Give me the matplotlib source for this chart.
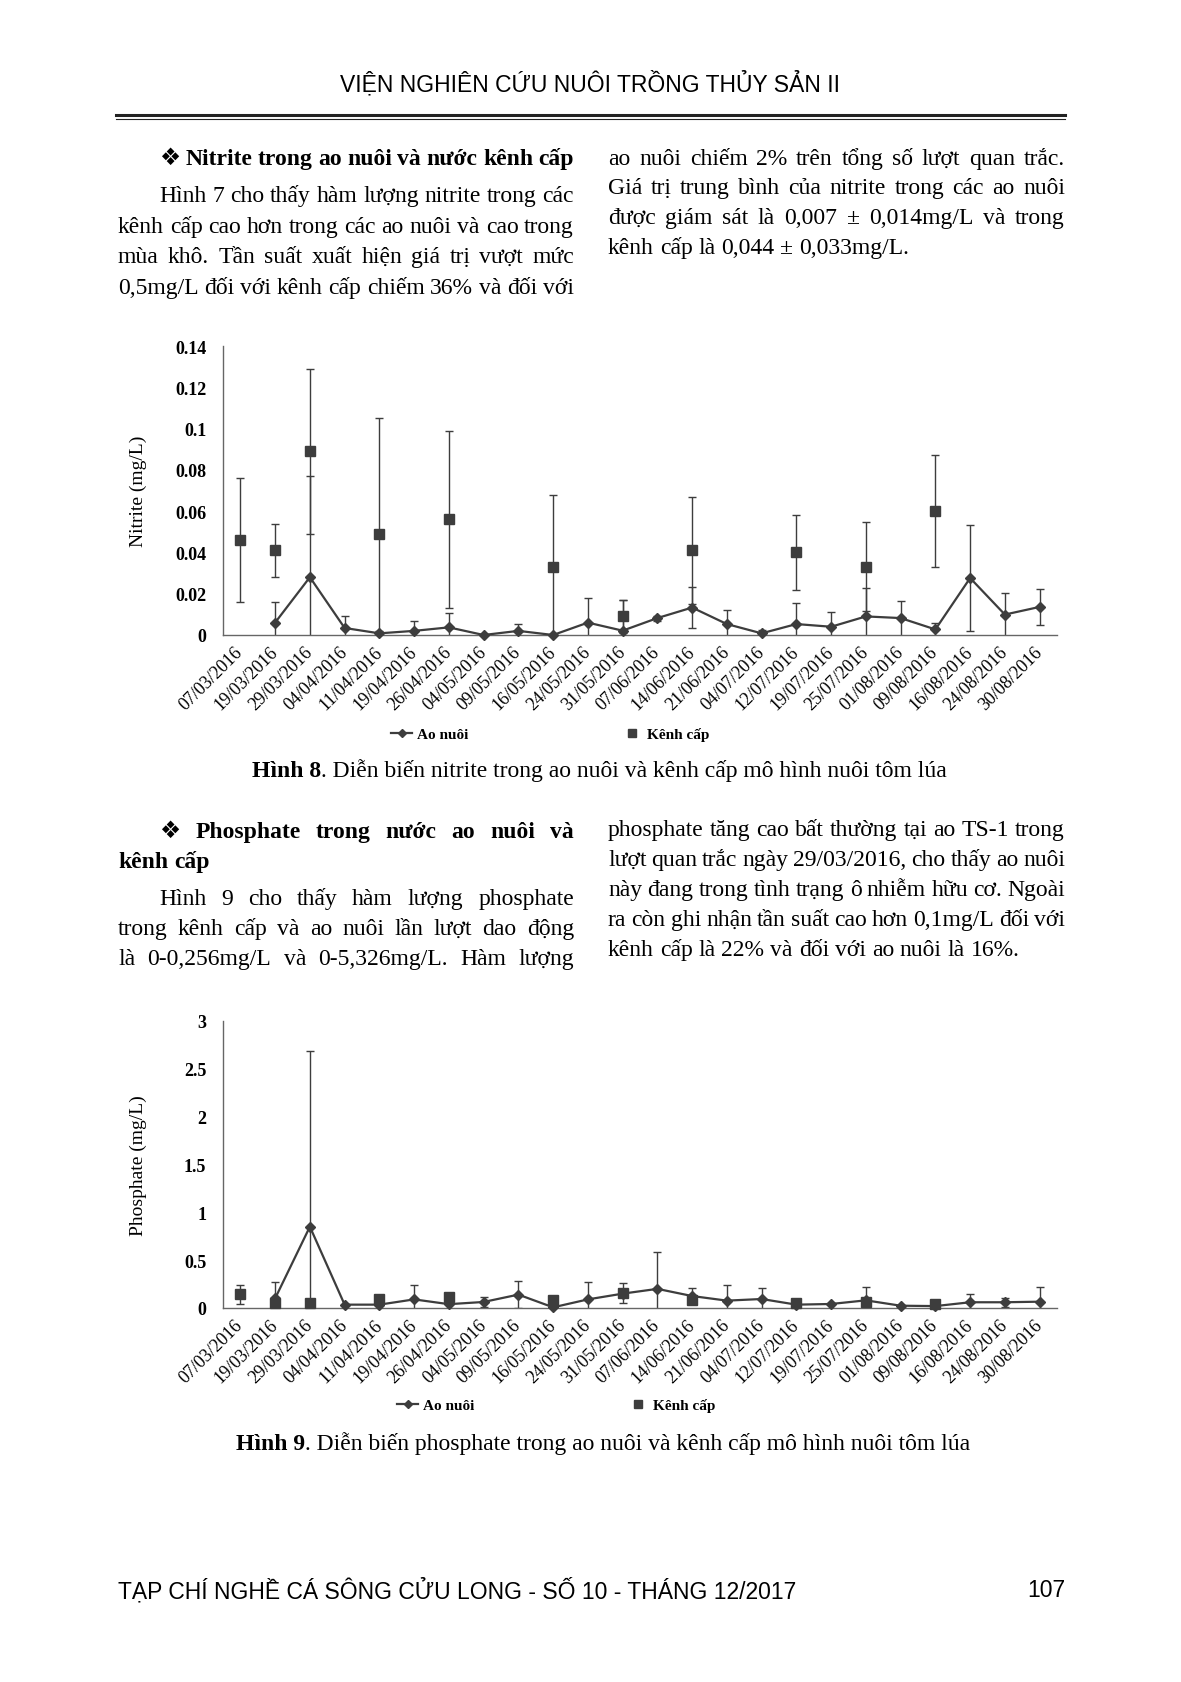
import matplotlib
matplotlib.use('Agg')
import matplotlib.pyplot as plt
from matplotlib.lines import Line2D
import numpy as np

W, H = 1181, 1683
nan = np.nan

# ---- du lieu (doc tu hinh) ----
dates = ['07/03/2016', '19/03/2016', '29/03/2016', '04/04/2016', '11/04/2016', '19/04/2016',
         '26/04/2016', '04/05/2016', '09/05/2016', '16/05/2016', '24/05/2016', '31/05/2016',
         '07/06/2016', '14/06/2016', '21/06/2016', '04/07/2016', '12/07/2016', '19/07/2016',
         '25/07/2016', '01/08/2016', '09/08/2016', '16/08/2016', '24/08/2016', '30/08/2016']

nitrite_ao = [nan, 0.006, 0.028, 0.0034, 0.0008, 0.002, 0.0037, 0.0, 0.002, 0.0, 0.006, 0.0021,
              0.0082, 0.0133, 0.0053, 0.0008, 0.0053, 0.004, 0.009, 0.0082, 0.0027, 0.0276, 0.0099, 0.0136]
nitrite_ao_sd = [nan, 0.010, 0.049, 0.0056, 0.001, 0.0046, 0.007, 0.0, 0.0033, 0.0, 0.0118, 0.015,
                 0.0012, 0.0101, 0.007, 0.0016, 0.0102, 0.0073, 0.0138, 0.0085, 0.0033, 0.0255, 0.0106, 0.0088]
nitrite_kenh = [0.046, 0.041, 0.089, nan, 0.049, nan, 0.056, nan, nan, 0.033, nan, 0.009,
                nan, 0.041, nan, nan, 0.040, nan, 0.033, nan, 0.060, nan, nan, nan]
nitrite_kenh_sd = [0.030, 0.013, 0.040, nan, 0.056, nan, 0.043, nan, nan, 0.035, nan, 0.008,
                   nan, 0.026, nan, nan, 0.018, nan, 0.0215, nan, 0.027, nan, nan, nan]

phosphate_ao = [nan, 0.10, 0.85, 0.035, 0.035, 0.09, 0.04, 0.063, 0.14, 0.007, 0.09, 0.15,
                0.20, 0.125, 0.077, 0.094, 0.035, 0.042, 0.08, 0.024, 0.02, 0.06, 0.06, 0.066]
phosphate_ao_sd = [nan, 0.17, 1.84, 0.0, 0.0, 0.15, 0.0, 0.052, 0.14, 0.0, 0.18, 0.0,
                   0.39, 0.085, 0.16, 0.12, 0.0, 0.0, 0.136, 0.0, 0.0, 0.083, 0.048, 0.15]
phosphate_kenh = [0.143, 0.055, 0.056, nan, 0.094, nan, 0.118, nan, nan, 0.08, nan, 0.153,
                  nan, 0.08, nan, nan, 0.052, nan, 0.063, nan, 0.045, nan, nan, nan]
phosphate_kenh_sd = [0.10, 0.0, 0.0, nan, 0.0, nan, 0.0, nan, nan, 0.0, nan, 0.105,
                     nan, 0.0, nan, nan, 0.0, nan, 0.0, nan, 0.0, nan, nan, nan]

SERIF = ['Liberation Serif', 'DejaVu Serif', 'DejaVu Sans']
NARROW = ['Liberation Sans Narrow', 'Liberation Sans', 'DejaVu Sans']
C = '#3d3d3d'
BODY = 17

fig = plt.figure(figsize=(W / 100, H / 100), dpi=100)
r = fig.canvas.get_renderer()


def fx(x):
    return x / W


def fy(y):
    return 1 - y / H


def line(s, x0, x1, y, justify=True, size=BODY, weight='normal'):
    # dat tung chu mot, can deu hai ben
    ws = s.split()
    ts = [fig.text(0, fy(y), w, va='baseline', family=SERIF, fontsize=size, weight=weight) for w in ws]
    wd = [t.get_window_extent(r).width for t in ts]
    gap = size * 100 / 72 * 0.25
    if justify and len(ws) > 1:
        gap = (x1 - x0 - sum(wd)) / (len(ws) - 1)
    x = x0
    for t, w in zip(ts, wd):
        t.set_x(fx(x))
        x += w + gap


def fit(x, y, s, width, ha='left', **kw):
    t = fig.text(fx(x), fy(y), s, ha=ha, va='center', fontsize=20, **kw)
    w = t.get_window_extent(r).width
    t.set_fontsize(20 * width / w)
    return t


def caption(x, y, bold, rest):
    t = fig.text(fx(x), fy(y), bold, va='baseline', family=SERIF, fontsize=BODY, weight='bold')
    w = t.get_window_extent(r).width
    fig.text(fx(x + w), fy(y), rest, va='baseline', family=SERIF, fontsize=BODY)


# ---- header / footer ----
fit(590, 84, 'VIỆN NGHIÊN CỨU NUÔI TRỒNG THỦY SẢN II', 499, ha='center', family=NARROW)
fig.add_artist(Line2D([fx(116), fx(1065)], [fy(116), fy(116)], color='#222222', lw=2.2))
fig.add_artist(Line2D([fx(116), fx(1065)], [fy(119.5), fy(119.5)], color='#222222', lw=0.8))
ft = fit(118, 1591, 'TẠP CHÍ NGHỀ CÁ SÔNG CỬU LONG - SỐ 10 - THÁNG 12/2017', 679, family=NARROW)
fig.text(fx(1065), fy(1591), '107', ha='right', va='center', family=NARROW, fontsize=ft.get_fontsize())

# ---- doan van 1 ----
LX0, LX1, IND = 118, 574, 159
RX0, RX1 = 608, 1065
line('❖ Nitrite trong ao nuôi và nước kênh cấp', IND, 574, 165, weight='bold')
line('Hình 7 cho thấy hàm lượng nitrite trong các', IND, LX1, 202)
line('kênh cấp cao hơn trong các ao nuôi và cao trong', LX0, LX1, 233)
line('mùa khô. Tần suất xuất hiện giá trị vượt mức', LX0, LX1, 263)
line('0,5mg/L đối với kênh cấp chiếm 36% và đối với', LX0, LX1, 294)
line('ao nuôi chiếm 2% trên tổng số lượt quan trắc.', RX0, RX1, 165)
line('Giá trị trung bình của nitrite trong các ao nuôi', RX0, RX1, 194)
line('được giám sát là 0,007 ± 0,014mg/L và trong', RX0, RX1, 224)
line('kênh cấp là 0,044 ± 0,033mg/L.', RX0, RX1, 254, justify=False)

# ---- doan van 2 ----
line('❖ Phosphate trong nước ao nuôi và', IND, LX1, 838, weight='bold')
line('kênh cấp', LX0, LX1, 868, justify=False, weight='bold')
line('Hình 9 cho thấy hàm lượng phosphate', IND, LX1, 905)
line('trong kênh cấp và ao nuôi lần lượt dao động', LX0, LX1, 935)
line('là 0-0,256mg/L và 0-5,326mg/L. Hàm lượng', LX0, LX1, 965)
line('phosphate tăng cao bất thường tại ao TS-1 trong', RX0, RX1, 836)
line('lượt quan trắc ngày 29/03/2016, cho thấy ao nuôi', RX0, RX1, 866)
line('này đang trong tình trạng ô nhiễm hữu cơ. Ngoài', RX0, RX1, 896)
line('ra còn ghi nhận tần suất cao hơn 0,1mg/L đối với', RX0, RX1, 926)
line('kênh cấp là 22% và đối với ao nuôi là 16%.', RX0, RX1, 956, justify=False)


# ---- bieu do ----
def chart(top, bottom, ao, ao_sd, kenh, kenh_sd, ymax, yticks, ylabels, ylabel, leg_x, leg_y):
    ax = fig.add_axes([fx(223), fy(bottom), fx(1057) - fx(223), fy(top) - fy(bottom)])
    x = np.arange(len(dates))
    ax.errorbar(x, ao, yerr=ao_sd, fmt='none', ecolor=C, elinewidth=1, capsize=3, capthick=1)
    ax.errorbar(x, kenh, yerr=kenh_sd, fmt='none', ecolor=C, elinewidth=1, capsize=3, capthick=1)
    ax.plot(x, ao, color=C, lw=1.6, marker='D', ms=4.8, clip_on=False, zorder=3)
    ax.plot(x, kenh, ls='none', marker='s', ms=6.5, color=C, clip_on=False, zorder=4)
    ax.set_xlim(-0.5, len(dates) - 0.5)
    ax.set_ylim(0, ymax)
    ax.set_yticks(yticks)
    ax.set_yticklabels(ylabels, family=SERIF, weight='bold', fontsize=13)
    ax.set_xticks(x)
    ax.set_xticklabels(dates, rotation=45, ha='right', va='center', rotation_mode='anchor',
                       family=SERIF, fontsize=13)
    ax.tick_params(axis='both', length=0)
    ax.tick_params(axis='x', pad=10)
    ax.tick_params(axis='y', pad=12)
    for s in ['top', 'right']:
        ax.spines[s].set_visible(False)
    for s in ['left', 'bottom']:
        ax.spines[s].set_color('#666666')
        ax.spines[s].set_linewidth(1)
    fig.text(fx(138), fy((top + bottom) / 2), ylabel, rotation=90, ha='center', va='center',
             family=SERIF, fontsize=14)
    hd = [Line2D([], [], color=C, lw=1.6, marker='D', ms=4.5),
          Line2D([], [], ls='none', marker='s', ms=5.5, color=C)]
    fig.legend(hd, ['Ao nuôi', 'Kênh cấp'], loc='center', bbox_to_anchor=(fx(leg_x), fy(leg_y)),
               ncol=2, frameon=False, columnspacing=10, handlelength=1.4, handletextpad=0.3,
               prop=dict(family=SERIF, weight='bold', size=11))
    return ax


chart(347, 636, nitrite_ao, nitrite_ao_sd, nitrite_kenh, nitrite_kenh_sd, 0.14,
      [0, 0.02, 0.04, 0.06, 0.08, 0.1, 0.12, 0.14],
      ['0', '0.02', '0.04', '0.06', '0.08', '0.1', '0.12', '0.14'], 'Nitrite (mg/L)', 550, 735)
caption(252, 777, 'Hình 8', '. Diễn biến nitrite trong ao nuôi và kênh cấp mô hình nuôi tôm lúa')

chart(1022, 1309, phosphate_ao, phosphate_ao_sd, phosphate_kenh, phosphate_kenh_sd, 3,
      [0, 0.5, 1, 1.5, 2, 2.5, 3], ['0', '0.5', '1', '1.5', '2', '2.5', '3'],
      'Phosphate (mg/L)', 556, 1406)
caption(236, 1450, 'Hình 9', '. Diễn biến phosphate trong ao nuôi và kênh cấp mô hình nuôi tôm lúa')

fig.savefig('out.png', dpi=100)
